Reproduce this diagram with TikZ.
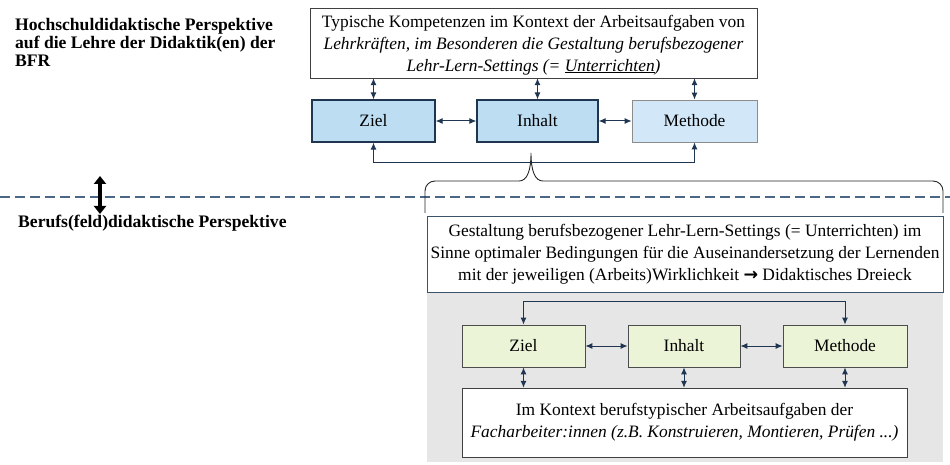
\documentclass[tikz,border=0pt]{standalone}
\usepackage{fontspec}
\setmainfont{Liberation Serif}
\newfontfamily\arrowfont{DejaVu Sans}
\usepackage{xcolor}
\usetikzlibrary{arrows.meta, positioning}
\usetikzlibrary{calc}

\definecolor{navy}{HTML}{1F3550}
\definecolor{skyfill}{HTML}{BDDDF3}
\definecolor{skylight}{HTML}{D2E8F8}
\definecolor{limefill}{HTML}{EBF4D7}
\definecolor{greybg}{HTML}{E6E6E6}
\definecolor{dashblue}{HTML}{4A6785}

\tikzset{
  textbox/.style={draw=black!75, fill=white, align=center, inner sep=0pt,
    font=\fontsize{17.4}{22}\selectfont},
  cellbox/.style={minimum height=42pt, inner sep=0pt,
    font=\fontsize{17.4}{20}\selectfont},
  bluebox/.style={cellbox, draw=navy, line width=1.3pt, fill=skyfill},
  greenbox/.style={cellbox, draw=black!70, line width=0.8pt, fill=limefill},
  link/.style={navy, line width=1pt, {Latex[length=7pt,width=6pt]}-{Latex[length=7pt,width=6pt]}},
  sidetext/.style={inner sep=0pt, align=left, font=\fontsize{17.6}{17.8}\selectfont\bfseries}
}

\begin{document}
\begin{tikzpicture}[x=1pt, y=1pt]
\useasboundingbox (0,0) rectangle (950,464);

% grey area of the lower triangle
\fill[greybg] (427,2) rectangle (943,171);

% side labels
\node[sidetext, anchor=north west] (hochschul) at (15,446)
  {Hochschuldidaktische Perspektive\\auf die Lehre der Didaktik(en) der\\BFR};
\node[sidetext, anchor=base west] (berufsfeld) at (18,236)
  {Berufs(feld)didaktische Perspektive};

% dividing line and switch arrow
\coordinate (lineL) at (0,267);
\coordinate (lineR) at (950,267);
\draw[dashblue, line width=1.2pt, dash pattern=on 10pt off 5pt] (lineL) -- (lineR);
\coordinate (up) at (100,288);
\coordinate (down) at (100,250);
\draw[line width=3.4pt, {Triangle[width=12pt,length=8pt]}-{Triangle[width=12pt,length=8pt]}] (up) -- (down);

% upper triangle
\node[textbox, minimum width=447pt, minimum height=70pt, text depth=-3pt] (kompetenz) at (533.5,421)
  {Typische Kompetenzen im Kontext der Arbeitsaufgaben von\\
   \textit{Lehrkräften, im Besonderen die Gestaltung berufsbezogener}\\
   \textit{Lehr-Lern-Settings (= \underline{Unterrichten})}};
\node[bluebox, minimum width=123pt] (ziel) at (373.5,343) {Ziel};
\node[bluebox, minimum width=121pt] (inhalt) at (537.5,343) {Inhalt};
\node[cellbox, draw=black!45, line width=0.8pt, fill=skylight, minimum width=125pt] (methode) at (694.5,343) {Methode};

\draw[link] (ziel) -- (inhalt);
\draw[link] (inhalt) -- (methode);
\draw[link] (ziel.north) -- (ziel.north |- kompetenz.south);
\draw[link] (inhalt.north) -- (inhalt.north |- kompetenz.south);
\draw[link] (methode.north) -- (methode.north |- kompetenz.south);
\draw[link] (ziel.south) -- ++(0,-20) -| (methode.south);

% brace
\coordinate (braceL) at (425,251);
\coordinate (braceR) at (943,251);
\coordinate (braceTip) at (531,311);
\draw[black!85, line width=0.9pt] (braceL) -- (425,273) to[out=90,in=180] (435,283) -- (519,283)
  .. controls (527,283) and (531,293) .. (braceTip)
  .. controls (531,293) and (535,283) .. (543,283) -- (933,283)
  to[out=0,in=90] (943,273) -- (braceR);

% lower triangle
\node[textbox, draw=dashblue!80!black, minimum width=516pt, minimum height=76pt] (gestaltung) at (685,210)
  {Gestaltung berufsbezogener Lehr-Lern-Settings (= Unterrichten) im\\
   Sinne optimaler Bedingungen für die Auseinandersetzung der Lernenden\\
   mit der jeweiligen (Arbeits)Wirklichkeit {\arrowfont\bfseries →} Didaktisches Dreieck};
\node[greenbox, minimum width=123pt] (gziel) at (523.5,118) {Ziel};
\node[greenbox, minimum width=112pt] (ginhalt) at (684,118) {Inhalt};
\node[greenbox, minimum width=124pt] (gmethode) at (845,118) {Methode};
\node[textbox, minimum width=445pt, minimum height=69pt] (arbeit) at (684.5,41.5)
  {Im Kontext berufstypischer Arbeitsaufgaben der\\
   \textit{Facharbeiter:innen (z.B. Konstruieren, Montieren, Prüfen ...)}};

\draw[link] (gziel) -- (ginhalt);
\draw[link] (ginhalt) -- (gmethode);
\draw[link] (gziel.south) -- (gziel.south |- arbeit.north);
\draw[link] (ginhalt.south) -- (ginhalt.south |- arbeit.north);
\draw[link] (gmethode.south) -- (gmethode.south |- arbeit.north);
\draw[link] (gziel.north) -- ++(0,23) -| (gmethode.north);
\end{tikzpicture}
\end{document}
